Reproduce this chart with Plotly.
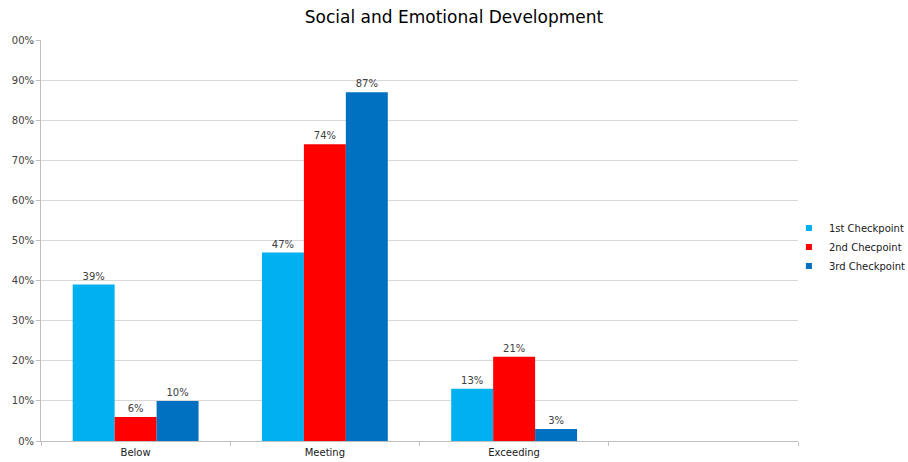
import plotly.graph_objects as go

categories = ["Below", "Meeting", "Exceeding", " "]
series_names = ["1st Checkpoint", "2nd Checpoint", "3rd Checkpoint"]
first = [39, 47, 13, None]
second = [6, 74, 21, None]
third = [10, 87, 3, None]
colors = ["#00B0F0", "#FF0000", "#0070C0"]
y_tickvals = [0, 10, 20, 30, 40, 50, 60, 70, 80, 90, 100]
y_ticktext = ["0%", "10%", "20%", "30%", "40%", "50%", "60%", "70%", "80%", "90%", "00%"]

fig = go.Figure()
for name, vals, col in zip(series_names, [first, second, third], colors):
    fig.add_trace(go.Bar(
        x=categories, y=vals, name=name, marker=dict(color=col, line=dict(width=0)),
        text=[f"{v}%" if v is not None else "" for v in vals],
        textposition="outside", cliponaxis=False, showlegend=False,
        textfont=dict(family="DejaVu Sans", size=10, color="#404040"),
    ))
# legend entries with small square markers
for name, col in zip(series_names, colors):
    fig.add_trace(go.Scatter(
        x=[None], y=[None], mode="markers", name=name,
        marker=dict(symbol="square", size=6, color=col),
    ))

fig.update_layout(
    width=908, height=462,
    margin=dict(l=41, r=110, t=40, b=21, autoexpand=False),
    paper_bgcolor="white", plot_bgcolor="white",
    barmode="group", bargap=0.335, bargroupgap=0,
    title=dict(text="Social and Emotional Development", x=0.5, xanchor="center",
               y=1 - 17 / 462, yanchor="middle",
               font=dict(family="DejaVu Sans", size=17, color="#000000")),
    font=dict(family="DejaVu Sans", size=10, color="#404040"),
    legend=dict(x=0.988, y=0.484, xanchor="left", yanchor="middle",
                font=dict(family="DejaVu Sans", size=10, color="#202020"),
                itemwidth=30, tracegroupgap=0, bgcolor="rgba(0,0,0,0)"),
    showlegend=True,
)
fig.update_xaxes(
    type="category", categoryorder="array", categoryarray=categories,
    range=[-0.5, 3.5], showgrid=False, showline=True, linecolor="#BFBFBF", linewidth=1,
    ticks="outside", tickson="boundaries", ticklen=4, tickcolor="#BFBFBF",
    ticklabelstandoff=2,
    tickfont=dict(family="DejaVu Sans", size=10, color="#202020"), automargin=False,
)
fig.update_yaxes(
    range=[0, 100], tickvals=y_tickvals, ticktext=y_ticktext,
    showgrid=True, gridcolor="#D9D9D9", gridwidth=1, zeroline=False,
    showline=True, linecolor="#BFBFBF", linewidth=1,
    ticks="outside", ticklen=4, tickcolor="#BFBFBF",
    tickfont=dict(family="DejaVu Sans", size=10, color="#404040"), automargin=False,
)
fig.write_html("out.html", config={"displayModeBar": False},
               post_script="document.body.style.margin='0';")
